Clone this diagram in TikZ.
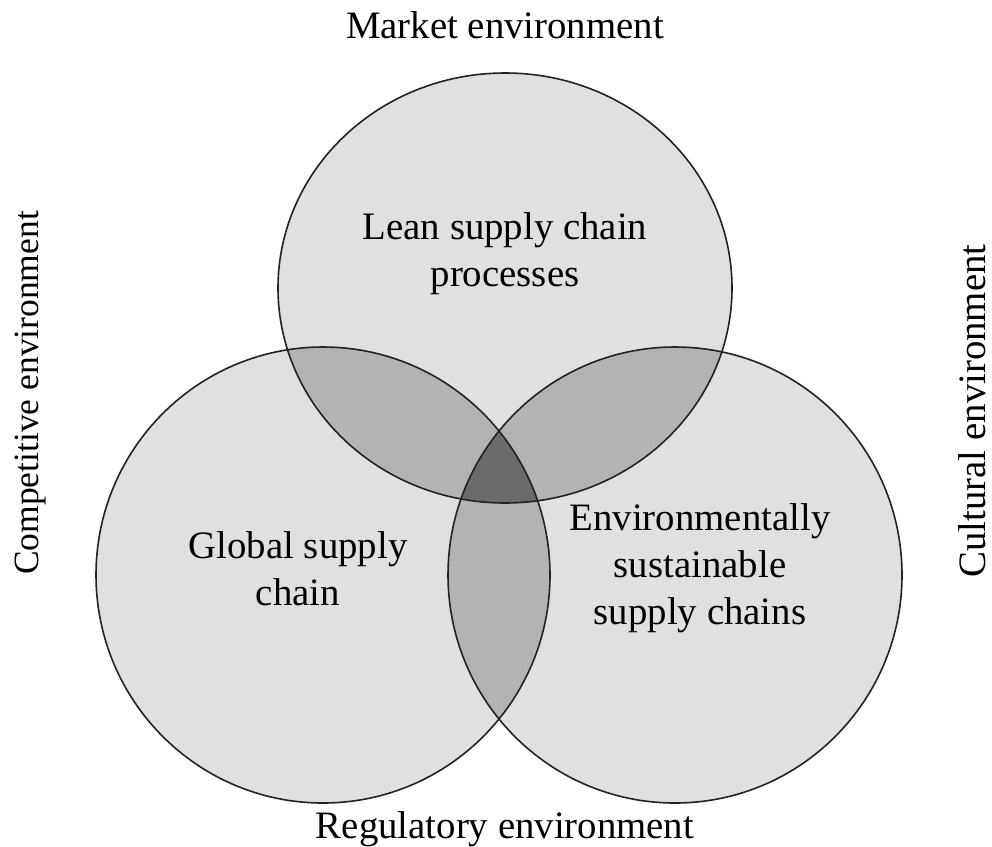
\documentclass[tikz,border=0pt]{standalone}
\usepackage{fontspec}
\setmainfont{Liberation Serif}
\definecolor{oneC}{HTML}{E0E0E0}
\definecolor{twoC}{HTML}{B3B3B3}
\definecolor{threeC}{HTML}{6B6B6B}
\definecolor{edgeC}{HTML}{222222}
\begin{document}
\begin{tikzpicture}[x=1pt,y=-1pt,
  lbl/.style={font=\fontsize{38.8}{47}\selectfont, align=center, inner sep=0pt, text=black},
  sidelbl/.style={lbl, rotate=90, anchor=base, text depth=0pt},
  rim/.style={draw=edgeC, line width=1.6pt}]
\useasboundingbox (0,0) rectangle (992,846);
\def\Tpath{(505,288) ellipse [x radius=227pt, y radius=215pt]}
\def\Lpath{(323,575) ellipse [x radius=227pt, y radius=228pt]}
\def\Rpath{(675,575) ellipse [x radius=227pt, y radius=228pt]}
% single fills
\fill[oneC] \Tpath;
\fill[oneC] \Lpath;
\fill[oneC] \Rpath;
% pairwise
\begin{scope}\clip \Tpath; \fill[twoC] \Lpath; \fill[twoC] \Rpath; \end{scope}
\begin{scope}\clip \Lpath; \fill[twoC] \Rpath; \end{scope}
% triple
\begin{scope}\clip \Tpath; \clip \Lpath; \fill[threeC] \Rpath; \end{scope}
% outlines
\draw[rim] \Tpath;
\draw[rim] \Lpath;
\draw[rim] \Rpath;
% labels
\node[lbl] (market) at (505,25) {Market environment};
\node[lbl] (regul) at (505,829) {Regulatory environment};
\node[sidelbl, font=\fontsize{35.5}{42}\selectfont] (compet) at (38,393) {Competitive environment};
\node[sidelbl] (cult) at (985,411) {Cultural environment};
\node[lbl] (lean) at (505,254) {Lean supply chain\\processes};
\node[lbl] (global) at (298,569) {Global supply\\chain};
\node[lbl] (envir) at (700,568) {Environmentally\\sustainable\\supply chains};
\end{tikzpicture}
\end{document}
